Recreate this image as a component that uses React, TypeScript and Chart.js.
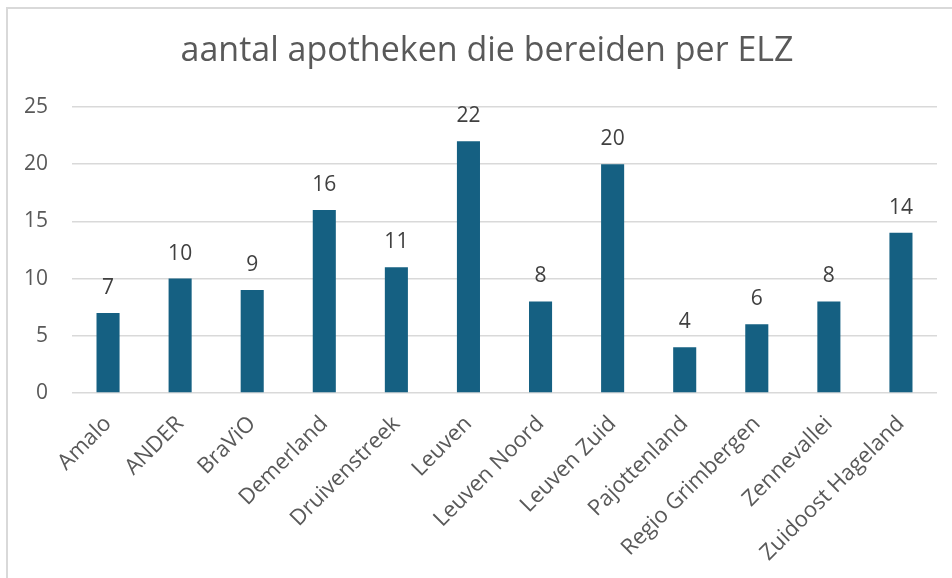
import React, { useEffect, useRef } from "react";
import { Chart, registerables } from "chart.js";

Chart.register(...registerables);

const TITLE = "aantal apotheken die bereiden per ELZ";
const categories = [
  "Amalo",
  "ANDER",
  "BraViO",
  "Demerland",
  "Druivenstreek",
  "Leuven",
  "Leuven Noord",
  "Leuven Zuid",
  "Pajottenland",
  "Regio Grimbergen",
  "Zennevallei",
  "Zuidoost Hageland",
];
const values = [7, 10, 9, 16, 11, 22, 8, 20, 4, 6, 8, 14];
const yTicks = [0, 5, 10, 15, 20, 25];

const FONT = "'Open Sans', 'Liberation Sans', Arial, sans-serif";
const BAR_COLOR = "#156082";
const GRID_COLOR = "#d9d9d9";
const TEXT_COLOR = "#595959";
const LABEL_COLOR = "#404040";

const titlePlugin = {
  id: "customTitle",
  afterDraw(chart: any) {
    const ctx = chart.ctx;
    ctx.save();
    ctx.font = `34px ${FONT}`;
    ctx.fillStyle = TEXT_COLOR;
    ctx.textAlign = "center";
    ctx.textBaseline = "alphabetic";
    ctx.fillText(TITLE, 487, 61);
    ctx.restore();
  },
};

const dataLabelPlugin = {
  id: "dataLabels",
  afterDatasetsDraw(chart: any) {
    const ctx = chart.ctx;
    const meta = chart.getDatasetMeta(0);
    ctx.save();
    ctx.font = `21px ${FONT}`;
    ctx.fillStyle = LABEL_COLOR;
    ctx.textAlign = "center";
    ctx.textBaseline = "alphabetic";
    meta.data.forEach((bar: any, i: number) => {
      ctx.fillText(String(values[i]), bar.x, bar.y - 19);
    });
    ctx.restore();
  },
};

export default function App() {
  const ref = useRef<HTMLCanvasElement>(null);

  useEffect(() => {
    document.body.style.overflow = "hidden";
    const canvas = ref.current;
    if (!canvas) return;
    const chart = new Chart(canvas, {
      type: "bar",
      data: {
        labels: categories,
        datasets: [
          {
            data: values,
            backgroundColor: BAR_COLOR,
            borderWidth: 0,
            barPercentage: 0.32,
            categoryPercentage: 1,
          },
        ],
      },
      options: {
        animation: false,
        responsive: false,
        devicePixelRatio: 1,
        layout: { padding: { top: 107, right: 15, bottom: 0, left: 0 } },
        plugins: {
          legend: { display: false },
          title: { display: false },
          tooltip: { enabled: false },
        },
        scales: {
          x: {
            grid: { display: false },
            border: { display: false },
            ticks: {
              autoSkip: false,
              maxRotation: 45,
              minRotation: 45,
              padding: 10,
              color: TEXT_COLOR,
              font: { family: FONT, size: 22 },
            },
            afterFit(scale: any) {
              scale.height = 185;
            },
          },
          y: {
            min: 0,
            max: 25,
            afterBuildTicks(scale: any) {
              scale.ticks = yTicks.map((v) => ({ value: v }));
            },
            grid: {
              color: GRID_COLOR,
              lineWidth: 1.5,
              drawTicks: false,
            },
            border: { display: false },
            ticks: {
              padding: 24,
              color: TEXT_COLOR,
              font: { family: FONT, size: 21 },
            },
            afterFit(scale: any) {
              scale.width = 72;
            },
          },
        },
      },
      plugins: [titlePlugin, dataLabelPlugin],
    });
    return () => chart.destroy();
  }, []);

  return (
    <>
      <div
        style={{
          position: "fixed",
          left: 6,
          top: 7,
          width: 1000,
          height: 1000,
          border: `2px solid ${GRID_COLOR}`,
          boxSizing: "border-box",
        }}
      />
      <canvas
        ref={ref}
        width={952}
        height={578}
        style={{ position: "fixed", left: 0, top: 0, width: 952, height: 578 }}
      />
    </>
  );
}
